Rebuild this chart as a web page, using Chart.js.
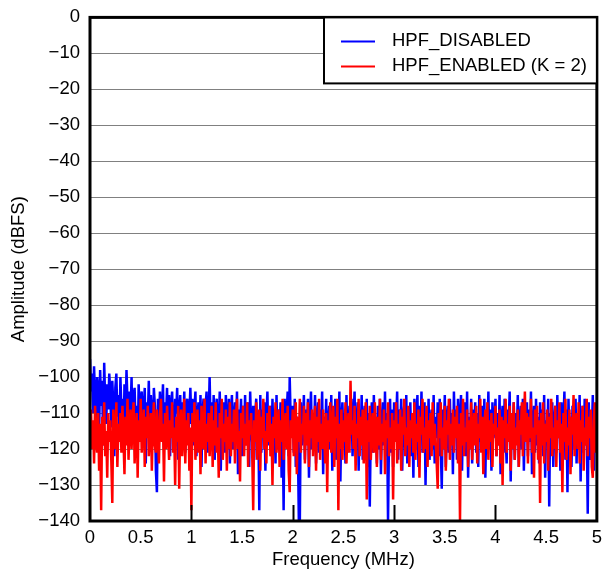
<!DOCTYPE html>
<html>
<head>
<meta charset="utf-8">
<script src="https://cdn.jsdelivr.net/npm/chart.js@4/dist/chart.umd.min.js"></script>
<style>
  html, body { margin: 0; padding: 0; background: #fff; }
  #wrap { width: 608px; height: 571px; }
</style>
</head>
<body>
<div id="wrap"><canvas id="fftChart" width="608" height="571"></canvas></div>
<script>
// frequency grid (MHz), one point every 0.01 MHz
const freqStart = 0;
const freqStep = 0.01;

const hpfDisabled = [
  -95,-104,-99,-110,-97,-106,-112,-100,-103,-115, -98,-108,-101,-119,-96,-107,-113,-102,-109,-99,
  -104,-114,-101,-108,-122,-103,-99,-111,-105,-117, -100,-109,-106,-120,-102,-112,-98,-107,-116,-104,
  -110,-100,-118,-105,-103,-113,-108,-121,-102,-111, -106,-104,-116,-109,-103,-124,-107,-112,-101,-115,
  -105,-110,-119,-103,-108,-126,-132,-106,-113,-104, -117,-109,-102,-120,-107,-111,-103,-116,-105,-122,
  -108,-104,-114,-119,-106,-110,-103,-123,-109,-105, -115,-107,-112,-104,-121,-108,-106,-117,-111,-103,
  -113,-106,-119,-109,-104,-122,-111,-107,-116,-105, -125,-110,-106,-118,-108,-104,-121,-112,-100,-114,
  -107,-117,-105,-123,-110,-106,-119,-113,-104,-126, -109,-115,-107,-121,-105,-112,-118,-106,-124,-110,
  -105,-120,-111,-107,-116,-104,-127,-109,-113,-106, -122,-108,-117,-105,-119,-111,-107,-125,-104,-114,
  -118,-108,-123,-110,-106,-116,-112,-137,-105,-121, -109,-114,-107,-126,-111,-104,-119,-113,-108,-122,
  -106,-117,-111,-124,-105,-120,-109,-115,-107,-128, -113,-137,-106,-118,-110,-104,-122,-100,-112,-116,
  -108,-121,-106,-125,-111,-117,-140,-140,-107,-119, -113,-105,-123,-109,-116,-106,-128,-112,-104,-120,
  -110,-118,-105,-124,-112,-107,-121,-109,-115,-104, -127,-111,-117,-106,-122,-113,-108,-120,-105,-126,
  -109,-116,-106,-123,-111,-119,-104,-129,-112,-107, -118,-110,-124,-105,-121,-113,-108,-117,-106,-122,
  -111,-104,-120,-115,-107,-126,-109,-118,-105,-123, -112,-108,-119,-106,-125,-110,-136,-114,-107,-121,
  -105,-117,-111,-124,-108,-120,-106,-127,-113,-107, -119,-104,-122,-110,-140,-116,-106,-121,-109,-125,
  -107,-118,-112,-104,-123,-109,-115,-106,-126,-111, -108,-120,-105,-124,-113,-117,-107,-122,-110,-128,
  -106,-119,-111,-105,-125,-108,-116,-104,-121,-112, -107,-130,-110,-118,-106,-123,-113,-109,-120,-105,
  -124,-111,-117,-107,-122,-106,-119,-131,-109,-115, -105,-125,-112,-108,-121,-106,-118,-110,-127,-104,
  -116,-109,-123,-106,-119,-112,-105,-126,-110,-117, -107,-122,-104,-128,-111,-118,-106,-124,-109,-115,
  -107,-121,-110,-125,-105,-118,-112,-108,-123,-106, -128,-111,-116,-104,-120,-109,-126,-107,-117,-113,
  -106,-122,-110,-119,-105,-127,-112,-108,-121,-106, -116,-124,-109,-113,-104,-129,-111,-118,-107,-123,
  -110,-117,-105,-125,-112,-108,-120,-106,-126,-111, -115,-107,-122,-109,-118,-104,-127,-113,-108,-121,
  -106,-119,-111,-124,-107,-116,-109,-122,-105,-128, -112,-118,-106,-136,-110,-120,-107,-125,-113,-108,
  -121,-105,-117,-110,-126,-107,-119,-112,-104,-123, -109,-132,-106,-118,-111,-125,-108,-114,-120,-106,
  -124,-110,-117,-105,-129,-112,-108,-121,-106,-119, -113,-138,-107,-123,-110,-116,-105,-126,-111,-118,
  -112
];

const hpfEnabled = [
  -114,-109,-120,-112,-124,-108,-117,-121,-110,-126, -113,-137,-111,-119,-107,-122,-115,-128,-110,-118,
  -112,-123,-135,-109,-116,-120,-107,-125,-113,-118, -110,-121,-108,-117,-127,-111,-119,-106,-123,-114,
  -109,-120,-113,-107,-124,-116,-110,-128,-112,-118, -106,-121,-114,-109,-125,-111,-117,-108,-122,-115,
  -110,-126,-113,-107,-119,-121,-109,-116,-124,-111, -106,-118,-113,-129,-110,-120,-108,-115,-123,-112,
  -117,-107,-121,-114,-130,-111,-118,-108,-131,-113, -109,-122,-116,-106,-124,-112,-119,-110,-126,-114,
  -137,-110,-118,-107,-123,-114,-109,-121,-112,-127, -108,-116,-120,-106,-124,-113,-118,-110,-122,-115,
  -108,-125,-112,-119,-107,-121,-114,-128,-110,-117, -106,-123,-113,-118,-109,-126,-111,-120,-107,-122,
  -113,-118,-109,-124,-111,-106,-120,-115,-129,-110, -117,-108,-122,-113,-119,-107,-125,-112,-116,-110,
  -121,-137,-112,-118,-107,-123,-114,-109,-126,-111, -117,-106,-120,-115,-124,-110,-118,-108,-122,-113,
  -130,-111,-117,-107,-121,-114,-109,-125,-112,-118, -106,-123,-115,-110,-120,-108,-126,-132,-112,-117,
  -109,-122,-114,-107,-127,-111,-118,-106,-121,-113, -116,-108,-124,-110,-119,-107,-125,-112,-117,-109,
  -122,-114,-108,-126,-111,-118,-106,-123,-113,-120, -109,-116,-124,-110,-132,-112,-118,-107,-121,-114,
  -108,-125,-111,-117,-106,-137,-113,-120,-109,-123, -112,-118,-107,-124,-114,-110,-121,-101,-116,-112,
  -120,-108,-126,-113,-117,-106,-122,-111,-119,-109, -124,-115,-107,-134,-112,-118,-108,-123,-114,-110,
  -121,-107,-116,-125,-111,-119,-106,-123,-113,-118, -109,-127,-112,-117,-107,-122,-114,-120,-110,-134,
  -112,-118,-107,-124,-113,-120,-109,-126,-111,-116, -106,-122,-114,-119,-108,-125,-112,-117,-110,-121,
  -107,-123,-113,-118,-109,-128,-111,-116,-106,-121, -114,-120,-108,-125,-112,-117,-110,-122,-107,-119,
  -113,-118,-124,-131,-110,-117,-107,-122,-114,-120, -108,-126,-112,-116,-106,-123,-113,-119,-109,-121,
  -111,-117,-108,-124,-113,-140,-110,-119,-106,-122, -114,-118,-109,-125,-112,-120,-107,-123,-115,-110,
  -119,-108,-124,-113,-117,-106,-121,-111,-127,-114, -109,-120,-107,-123,-112,-118,-110,-125,-113,-116,
  -108,-122,-114,-119,-109,-124,-111,-130,-112,-117, -106,-121,-113,-118,-108,-126,-110,-120,-107,-123,
  -114,-119,-109,-125,-112,-116,-107,-122,-113,-104, -118,-110,-124,-111,-117,-106,-121,-114,-128,-109,
  -116,-108,-123,-112,-135,-110,-119,-107,-124,-113, -118,-109,-126,-111,-117,-106,-122,-114,-120,-108,
  -125,-112,-117,-107,-121,-113,-132,-110,-118,-106, -123,-114,-119,-109,-127,-111,-116,-105,-122,-113,
  -110,-120,-107,-124,-112,-118,-108,-126,-114,-119, -106,-122,-111,-117,-109,-125,-128,-112,-107,-121,
  -115
];

const seriesNames = ['HPF_DISABLED', 'HPF_ENABLED (K = 2)'];
const seriesColors = ['#0000ff', '#ff0000'];
const innerTicks = [1, 2, 3, 4];

const FONT = '"Liberation Sans", Arial, sans-serif';

function toPoints(vals) {
  return vals.map((v, i) => ({ x: +(freqStart + i * freqStep).toFixed(2), y: v }));
}

function fmtNum(v) {
  return String(v).replace('-', '\u2212');
}

// frame, inner ticks on the x axis and the boxed legend
const decor = {
  id: 'decor',
  afterDatasetsDraw(chart) {
    const { ctx, chartArea: a, scales } = chart;
    ctx.save();
    ctx.strokeStyle = '#000';
    ctx.lineWidth = 2;
    innerTicks.forEach(t => {
      const x = Math.round(scales.x.getPixelForValue(t)) + 0.5;
      ctx.beginPath();
      ctx.moveTo(x, a.bottom);
      ctx.lineTo(x, a.bottom - 16);
      ctx.stroke();
    });
    ctx.lineWidth = 3;
    ctx.strokeRect(a.left, a.top, a.right - a.left, a.bottom - a.top);

    // legend
    const lx = 324, ly = a.top, lw = a.right - 324, lh = 66;
    ctx.fillStyle = '#fff';
    ctx.fillRect(lx, ly, lw, lh);
    ctx.lineWidth = 2;
    ctx.strokeRect(lx, ly, lw, lh);
    ctx.font = '18.5px ' + FONT;
    ctx.textBaseline = 'middle';
    seriesNames.forEach((name, i) => {
      const y = ly + 24 + i * 25;
      ctx.strokeStyle = seriesColors[i];
      ctx.lineWidth = 2;
      ctx.beginPath();
      ctx.moveTo(341, y);
      ctx.lineTo(375, y);
      ctx.stroke();
      ctx.fillStyle = '#000';
      ctx.fillText(name, 392, y);
    });
    ctx.restore();
  }
};

const ctx = document.getElementById('fftChart').getContext('2d');
new Chart(ctx, {
  type: 'line',
  data: {
    datasets: [
      {
        label: seriesNames[0],
        data: toPoints(hpfDisabled),
        borderColor: seriesColors[0],
        borderWidth: 2.5,
        pointRadius: 0,
        tension: 0,
        order: 1
      },
      {
        label: seriesNames[1],
        data: toPoints(hpfEnabled),
        borderColor: seriesColors[1],
        borderWidth: 2.5,
        pointRadius: 0,
        tension: 0,
        order: 0
      }
    ]
  },
  options: {
    responsive: false,
    animation: false,
    layout: { padding: { top: 9, right: 11, left: 0, bottom: 0 } },
    plugins: { legend: { display: false }, tooltip: { enabled: false } },
    scales: {
      x: {
        type: 'linear',
        min: 0,
        max: 5,
        grid: { display: false, drawTicks: false },
        border: { display: false },
        ticks: {
          stepSize: 0.5,
          padding: 6,
          color: '#000',
          font: { family: FONT, size: 18.5 },
          callback: v => fmtNum(v)
        },
        title: {
          display: true,
          text: 'Frequency (MHz)',
          color: '#000',
          padding: { top: 0, bottom: 0 },
          font: { family: FONT, size: 18.5 }
        },
        afterFit: s => { s.height = 50; }
      },
      y: {
        min: -140,
        max: 0,
        grid: { color: '#808080', lineWidth: 1, drawTicks: false },
        border: { display: false },
        ticks: {
          stepSize: 10,
          padding: 10,
          color: '#000',
          font: { family: FONT, size: 18.5, lineHeight: 0.8 },
          callback: v => fmtNum(v)
        },
        title: {
          display: true,
          text: 'Amplitude (dBFS)',
          color: '#000',
          padding: { top: 8, bottom: 0 },
          font: { family: FONT, size: 18.5 }
        },
        afterFit: s => { s.width = 90; }
      }
    }
  },
  plugins: [decor]
});
</script>
</body>
</html>
